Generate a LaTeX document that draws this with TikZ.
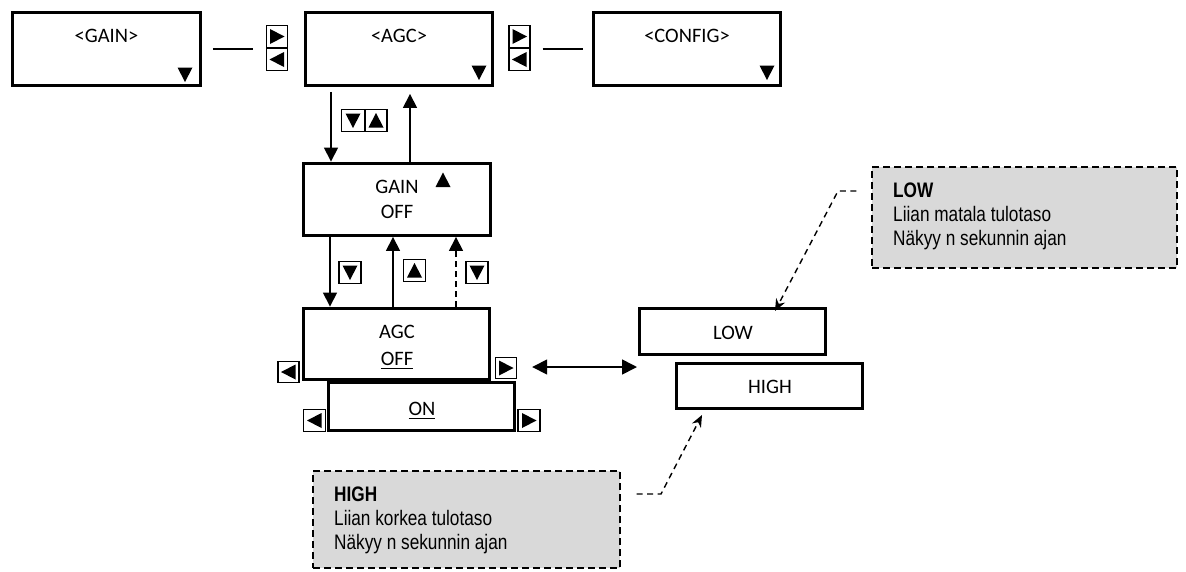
\documentclass[tikz,border=0pt]{standalone}
\usepackage{fontspec}
\setmainfont{Carlito}
\newfontfamily\notefont[FakeStretch=0.82]{Liberation Sans}
\usetikzlibrary{arrows.meta,calc}
\definecolor{notegray}{HTML}{D9D9D9}
\newcommand\myul[1]{\setbox0\hbox{#1}\rlap{\rule[-4.3pt]{\wd0}{1.5pt}}\box0}
\begin{document}
\begin{tikzpicture}[x=1pt,y=-1pt,
  box/.style={draw,line width=2.9pt,inner sep=0pt,minimum width=187pt},
  btn/.style={draw,line width=1.4pt,inner sep=0pt,minimum width=21pt,minimum height=21.5pt},
  btxt/.style={anchor=base,inner sep=0pt,font=\fontsize{20.5}{24}\selectfont},
  ntxt/.style={anchor=base west,inner sep=0pt,font=\notefont\fontsize{21}{24}\selectfont},
  note/.style={draw,dash pattern=on 7pt off 4pt,line width=1.4pt,fill=notegray,inner sep=0pt},
  arr/.style={line width=1.6pt,-{Triangle[length=14pt,width=14pt]}},
  darr/.style={line width=1.4pt,dash pattern=on 6pt off 4.5pt,-{Stealth[length=12pt,width=10pt]}},
  conn/.style={line width=1.6pt},
  pics/tdn/.style={code={\fill (-7.5,-7) -- (7.5,-7) -- (0,7.5) -- cycle;}},
  pics/tup/.style={code={\fill (-7.5,7) -- (7.5,7) -- (0,-7.5) -- cycle;}},
  pics/trt/.style={code={\fill (-7,-7.5) -- (-7,7.5) -- (7.5,0) -- cycle;}},
  pics/tlt/.style={code={\fill (7,-7.5) -- (7,7.5) -- (-7.5,0) -- cycle;}},
]
\useasboundingbox (0,0) rectangle (1186,571);

% top row
\node[box,minimum width=188pt,minimum height=73pt] (gain) at (106.5,49) {};
\node[box,minimum height=73pt] (agc) at (399,49) {};
\node[box,minimum height=73pt] (config) at (687,49) {};
\node[btxt] (gaint) at (106.5,42.5) {<GAIN>};
\node[btxt] (agct) at (399,42.5) {<AGC>};
\node[btxt] (configt) at (687,42.3) {<CONFIG>};
\pic at (185,74.5) {tdn};
\pic at (479,72.5) {tdn};
\pic at (767,72.5) {tdn};

\node[btn] (b1r) at (277,36.5) {};
\node[btn] (b1l) at (277,59.5) {};
\node[btn] (b2r) at (519.5,36.5) {};
\node[btn] (b2l) at (519.5,59.5) {};
\pic at (b1r) {trt};
\pic at (b1l) {tlt};
\pic at (b2r) {trt};
\pic at (b2l) {tlt};
\draw[conn] ($(gain.east)+(11,0)$) -- ($(b1r.west |- gain.east)+(-13,0)$);
\draw[conn] ($(b2r.east |- agc.east)+(12,0)$) -- ($(config.west)+(-9,0)$);

% GAIN OFF
\node[box,minimum height=72pt] (gainoff) at (397,199.5) {};
\node[btxt] (gainofft1) at (397,193) {GAIN};
\node[btxt] (gainofft2) at (397,218) {OFF};
\pic at (443,180) {tup};

\coordinate (xa) at (331,0);
\coordinate (xb) at (410,0);
\coordinate (xc) at (330,0);
\coordinate (xd) at (393,0);
\coordinate (xe) at (456,0);
\draw[arr,shorten >=0.5pt] ($(xa |- agc.south)+(0,5)$) -- (xa |- gainoff.north);
\draw[arr] (xb |- gainoff.north) -- ($(xb |- agc.south)+(0,7)$);
\node[btn,minimum width=23pt] (bdn1) at (353,120.5) {};
\node[btn,minimum width=22pt] (bup1) at (376,120.5) {};
\pic at (bdn1) {tdn};
\pic at (bup1) {tup};

% AGC OFF
\node[box,minimum width=186pt,minimum height=71pt] (agcoff) at (396.5,344) {};
\node[box,minimum width=186pt,minimum height=48pt] (on) at (421.5,406.5) {};
\node[btxt] (agcofft1) at (397,338) {AGC};
\node[btxt] (agcofft2) at (397,365) {\myul{OFF}};
\node[btxt] (ont) at (422,415) {\myul{ON}};

\draw[arr,shorten >=0.5pt] (xc |- gainoff.south) -- (xc |- agcoff.north);
\draw[arr] (xd |- agcoff.north) -- (xd |- gainoff.south);
\draw[arr,dash pattern=on 6pt off 4pt] (xe |- agcoff.north) -- (xe |- gainoff.south);
\node[btn,minimum width=22pt] (bdn2) at (350,272.5) {};
\node[btn,minimum width=22pt] (bup2) at (414.5,270.5) {};
\node[btn,minimum width=22pt] (bdn3) at (477,272.5) {};
\pic at (bdn2) {tdn};
\pic at (bup2) {tup};
\pic at (bdn3) {tdn};

\node[btn] (bl1) at (288.5,372) {};
\node[btn] (br1) at (506,368) {};
\node[btn,minimum width=22pt] (bl2) at (314.5,420.5) {};
\node[btn,minimum width=22pt] (br2) at (529,420.5) {};
\pic at (bl1) {tlt};
\pic at (br1) {trt};
\pic at (bl2) {tlt};
\pic at (br2) {trt};

% LOW / HIGH
\node[box,minimum width=186pt,minimum height=46pt] (low) at (732.5,331.5) {};
\node[box,minimum width=186pt,minimum height=45pt] (high) at (769.5,386) {};
\node[btxt] (lowt) at (733,339) {LOW};
\node[btxt] (hight) at (770,393) {HIGH};

\coordinate (dae) at (637,367);
\draw[line width=1.6pt,{Triangle[length=15pt,width=15pt]}-{Triangle[length=15pt,width=15pt]}]
  ($(br1.east)+(15,-1)$) -- (dae);

% notes
\node[note,minimum width=305pt,minimum height=101pt] (lownote) at (1024.5,217.5) {};
\node[ntxt] (lown1) at (893,197) {\bfseries LOW};
\node[ntxt] (lown2) at (893,221) {Liian matala tulotaso};
\node[ntxt] (lown3) at (893,245) {Näkyy n sekunnin ajan};

\node[note,minimum width=307pt,minimum height=97pt] (highnote) at (466.5,519.5) {};
\node[ntxt] (highn1) at (334,501) {\bfseries HIGH};
\node[ntxt] (highn2) at (334,525) {Liian korkea tulotaso};
\node[ntxt] (highn3) at (334,549) {Näkyy n sekunnin ajan};

\coordinate (lowbend) at (838,191);
\coordinate (lowtip) at (775,311);
\draw[darr] ($(lownote.west |- lowbend)+(-15,0)$) -- (lowbend) -- (lowtip);
\coordinate (highbend) at (661,494);
\coordinate (hightip) at (702,415);
\draw[darr] ($(highnote.east |- highbend)+(16,0)$) -- (highbend) -- (hightip);
\end{tikzpicture}
\end{document}
